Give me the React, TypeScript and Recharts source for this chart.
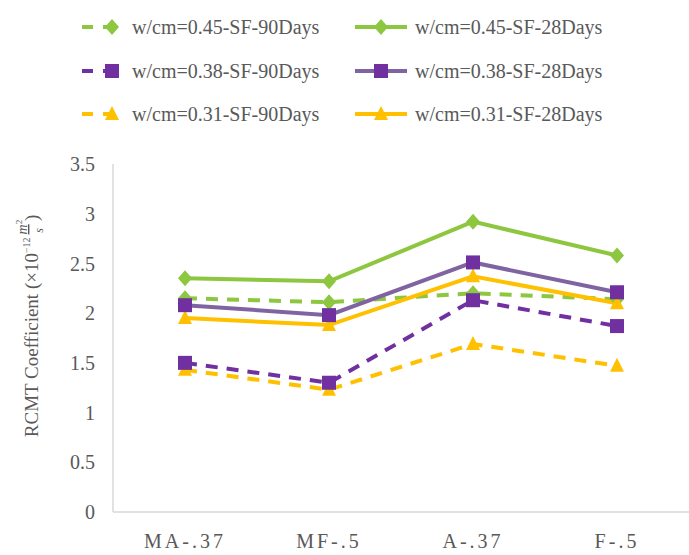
import React from 'react';
import { LineChart, Line, XAxis, YAxis } from 'recharts';

const categories = ['MA-.37', 'MF-.5', 'A-.37', 'F-.5'];

const sf45d90 = [2.15, 2.11, 2.2, 2.14];
const sf45d28 = [2.35, 2.32, 2.92, 2.58];
const sf38d90 = [1.5, 1.3, 2.13, 1.87];
const sf38d28 = [2.08, 1.98, 2.51, 2.21];
const sf31d90 = [1.43, 1.23, 1.69, 1.47];
const sf31d28 = [1.95, 1.88, 2.37, 2.1];

const yTicks = [0, 0.5, 1, 1.5, 2, 2.5, 3, 3.5];

const GREEN = '#8dc63f';
const PURPLE = '#7030a0';
const PURPLE_LINE = '#8064a2';
const YELLOW = '#ffc000';
const TEXT = '#595959';
const FONT = "'Liberation Serif', 'Times New Roman', Times, serif";

const data = categories.map((name, i) => ({
  name,
  sf45d90: sf45d90[i],
  sf45d28: sf45d28[i],
  sf38d90: sf38d90[i],
  sf38d28: sf38d28[i],
  sf31d90: sf31d90[i],
  sf31d28: sf31d28[i],
}));

type Shape = 'diamond' | 'square' | 'triangle';

function Marker({ cx, cy, shape, color }: { cx: number; cy: number; shape: Shape; color: string }) {
  if (shape === 'diamond') {
    return <polygon points={`${cx},${cy - 8} ${cx + 7},${cy} ${cx},${cy + 8} ${cx - 7},${cy}`} fill={color} />;
  }
  if (shape === 'square') {
    return <rect x={cx - 7} y={cy - 7} width={14} height={14} fill={color} />;
  }
  return <polygon points={`${cx},${cy - 8} ${cx + 7},${cy + 6} ${cx - 7},${cy + 6}`} fill={color} />;
}

const dotFor = (shape: Shape, color: string) => (props: any) => (
  <Marker key={`${shape}-${props.index}-${color}`} cx={props.cx} cy={props.cy} shape={shape} color={color} />
);

const legendItems = [
  { label: 'w/cm=0.45-SF-90Days', dashed: true, shape: 'diamond' as Shape, line: GREEN, mark: GREEN },
  { label: 'w/cm=0.45-SF-28Days', dashed: false, shape: 'diamond' as Shape, line: GREEN, mark: GREEN },
  { label: 'w/cm=0.38-SF-90Days', dashed: true, shape: 'square' as Shape, line: PURPLE, mark: PURPLE },
  { label: 'w/cm=0.38-SF-28Days', dashed: false, shape: 'square' as Shape, line: PURPLE_LINE, mark: PURPLE },
  { label: 'w/cm=0.31-SF-90Days', dashed: true, shape: 'triangle' as Shape, line: YELLOW, mark: YELLOW },
  { label: 'w/cm=0.31-SF-28Days', dashed: false, shape: 'triangle' as Shape, line: YELLOW, mark: YELLOW },
];

function ChartLegend() {
  const rowsY = [27, 71, 114];
  return (
    <div style={{ position: 'absolute', left: 0, top: 0, width: 689, height: 140 }}>
      {legendItems.map((it, i) => {
        const row = Math.floor(i / 2);
        const col = i % 2;
        const w = it.dashed ? 42 : 52;
        const left = col === 0 ? 82 : 355;
        return (
          <div
            key={it.label}
            style={{
              position: 'absolute',
              left,
              top: rowsY[row] - 12,
              height: 24,
              display: 'flex',
              alignItems: 'center',
              whiteSpace: 'nowrap',
            }}
          >
            <svg width={w} height={20} style={{ display: 'block' }}>
              <line
                x1={0}
                y1={10}
                x2={w}
                y2={10}
                stroke={it.line}
                strokeWidth={4}
                strokeDasharray={it.dashed ? '11 10' : undefined}
              />
              <Marker cx={it.dashed ? 30 : 26} cy={10} shape={it.shape} color={it.mark} />
            </svg>
            <span style={{ marginLeft: 8, fontFamily: FONT, fontSize: 20, color: TEXT }}>{it.label}</span>
          </div>
        );
      })}
    </div>
  );
}

function YLabel() {
  return (
    <text
      x={38}
      y={326}
      transform="rotate(-90, 38, 326)"
      textAnchor="middle"
      fontFamily={FONT}
      fontSize={19}
      fill={TEXT}
    >
      RCMT Coefficient (×10
      <tspan dy={-8} fontSize={10}>−12</tspan>
      <tspan dx={3} dy={-3} fontSize={14} fontStyle="italic" textDecoration="underline">
        m
      </tspan>
      <tspan dy={-5} fontSize={9}>2</tspan>
      <tspan dx={-13} dy={21} fontSize={12} fontStyle="italic">s</tspan>
      <tspan dx={7} dy={-5}>)</tspan>
    </text>
  );
}

export default function App() {
  return (
    <div style={{ position: 'absolute', left: 0, top: 0, width: 689, height: 555, background: '#fff' }}>
      <ChartLegend />
      <div style={{ position: 'absolute', left: 0, top: 0 }}>
        <LineChart width={689} height={555} data={data} margin={{ top: 164, right: 0, bottom: 1, left: 0 }}>
          <XAxis
            dataKey="name"
            padding={{ left: 72, right: 72 }}
            height={42}
            axisLine={{ stroke: '#d9d9d9', strokeWidth: 1.5 }}
            tickLine={false}
            tickMargin={16}
            interval={0}
            tick={{ fill: TEXT, fontFamily: FONT, fontSize: 20, letterSpacing: 3 }}
          />
          <YAxis
            width={113}
            domain={[0, 3.5]}
            ticks={yTicks}
            interval={0}
            axisLine={{ stroke: '#d9d9d9', strokeWidth: 1.5 }}
            tickLine={false}
            tickMargin={12}
            tick={{ fill: TEXT, fontFamily: FONT, fontSize: 20 }}
            label={<YLabel />}
          />
          <Line type="linear" dataKey="sf45d90" stroke={GREEN} strokeWidth={4} strokeDasharray="12 9" dot={dotFor('diamond', GREEN)} isAnimationActive={false} />
          <Line type="linear" dataKey="sf31d90" stroke={YELLOW} strokeWidth={4} strokeDasharray="12 9" dot={dotFor('triangle', YELLOW)} isAnimationActive={false} />
          <Line type="linear" dataKey="sf38d90" stroke={PURPLE} strokeWidth={4} strokeDasharray="12 9" dot={dotFor('square', PURPLE)} isAnimationActive={false} />
          <Line type="linear" dataKey="sf31d28" stroke={YELLOW} strokeWidth={4} dot={dotFor('triangle', YELLOW)} isAnimationActive={false} />
          <Line type="linear" dataKey="sf38d28" stroke={PURPLE_LINE} strokeWidth={4} dot={dotFor('square', PURPLE)} isAnimationActive={false} />
          <Line type="linear" dataKey="sf45d28" stroke={GREEN} strokeWidth={4} dot={dotFor('diamond', GREEN)} isAnimationActive={false} />
        </LineChart>
      </div>
    </div>
  );
}
